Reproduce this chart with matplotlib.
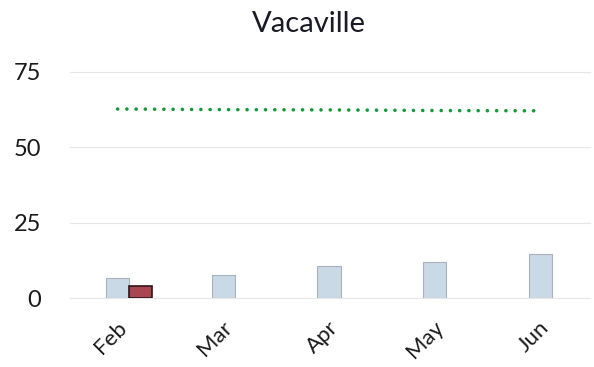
import matplotlib
matplotlib.use("Agg")
import matplotlib.pyplot as plt
import numpy as np

# data
months = ["Feb", "Mar", "Apr", "May", "Jun"]
blue_vals = [6.7, 7.5, 10.6, 11.8, 14.6]
red_vals = [4.0, 0, 0, 0, 0]
green_vals = [62.7, 62.5, 62.4, 62.2, 62.1]
yticks = [0, 25, 50, 75]

plt.rcParams['font.family'] = ['Lato', 'DejaVu Sans']

fig = plt.figure(figsize=(5.94, 3.67), dpi=100)
ax = fig.add_axes([0.118, 0.188, 0.875, 0.616])

x = np.arange(len(months))
w = 0.22
ax.bar(x - w / 2, blue_vals, width=w, color='#cad9e6', edgecolor='#a6b2bc',
       linewidth=0.8, zorder=2)
red_x = [xi + w / 2 for xi, v in zip(x, red_vals) if v > 0]
red_h = [v for v in red_vals if v > 0]
ax.bar(red_x, red_h, width=w, color='#a84652', edgecolor='#2e1518',
       linewidth=1.2, zorder=2)

ax.plot(x - w / 2, green_vals, color='#14993a', linewidth=2.6,
        linestyle=(0, (0.01, 2.55)), dash_capstyle='round', zorder=3)

ax.set_ylim(0, 75)
ax.set_xlim(-0.56, 4.36)
ax.set_yticks(yticks)
ax.set_yticklabels([str(t) for t in yticks], fontsize=17, color='#1a1a1a')
ax.grid(axis='y', color='#e6e6e6', linewidth=0.8, zorder=0)
ax.set_axisbelow(True)
for ln in ax.get_ygridlines():
    ln.set_clip_on(False)

# labels sit a little left of the group centre, like the original
ax.set_xticks(x - 0.12)
ax.set_xticklabels(months, fontsize=16, rotation=45, ha='right',
                   rotation_mode='anchor', color='#1a1a1a')
ax.tick_params(axis='both', length=0)
ax.tick_params(axis='x', pad=14)
ax.tick_params(axis='y', pad=21)
for s in ax.spines.values():
    s.set_visible(False)

fig.text(0.52, 0.935, "Vacaville", ha='center', va='center', fontsize=21,
         color='#1a1a24')

fig.savefig("out.png", dpi=100)
